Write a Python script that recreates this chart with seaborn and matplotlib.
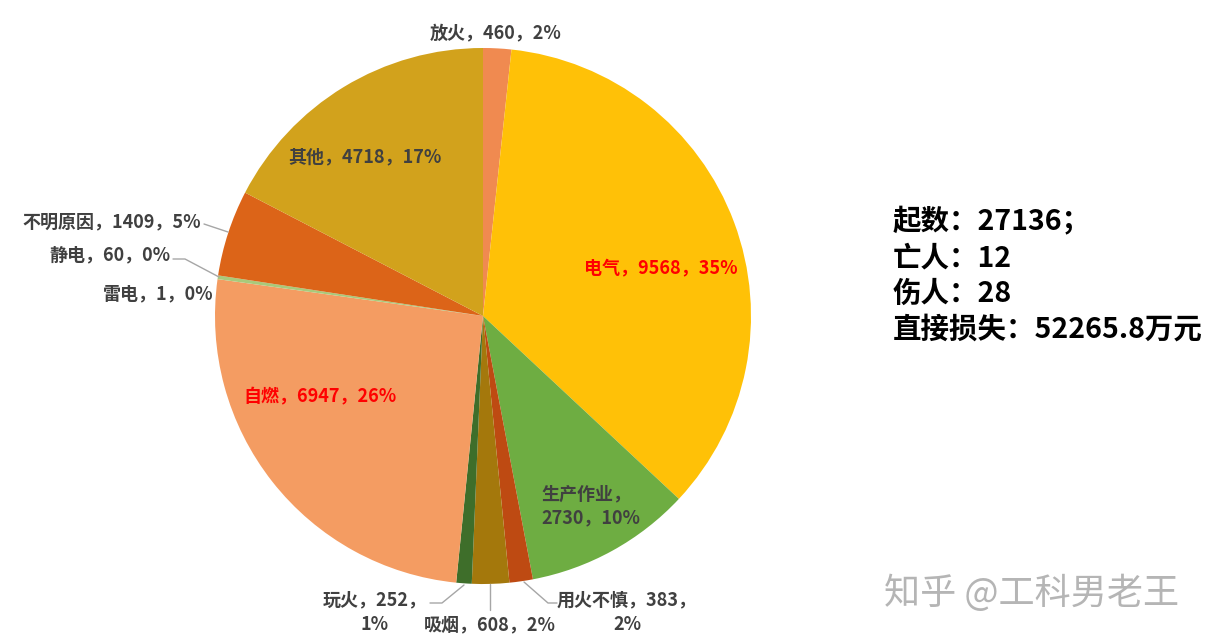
import matplotlib
matplotlib.use("Agg")
import matplotlib.pyplot as plt
import seaborn as sns

sns.set_theme(style="white")
plt.rcParams['font.family'] = ['Noto Sans CJK SC', 'DejaVu Sans']

# Data (clockwise from 12 o'clock)
categories = ["放火", "电气", "生产作业", "用火不慎", "吸烟", "玩火", "自燃", "雷电", "静电", "不明原因", "其他"]
counts = [460, 9568, 2730, 383, 608, 252, 6947, 1, 60, 1409, 4718]
percents = ["2%", "35%", "10%", "2%", "2%", "1%", "26%", "0%", "0%", "5%", "17%"]
colors = ["#F08A50", "#FFC107", "#6EAD42", "#BE4A12", "#A4780C", "#3E6E2A",
          "#F49C62", "#9DC46C", "#A9C97A", "#DC6418", "#D2A21C"]
summary_lines = ["起数：27136；", "亡人：12", "伤人：28", "直接损失：52265.8万元"]
watermark = "知乎 @工科男老王"

fig = plt.figure(figsize=(12.1, 6.43), dpi=100)
fig.patch.set_facecolor("white")
ax = fig.add_axes([215 / 1210, (643 - 584) / 643, 536 / 1210, 536 / 643])
ax.pie(counts, colors=colors, startangle=90, counterclock=False, radius=1,
       wedgeprops=dict(linewidth=0))
ax.set_xlim(-1, 1)
ax.set_ylim(-1, 1)
ax.set_aspect("equal")
ax.axis("off")


def P(px, py):
    return ((px - 483) / 268, (316 - py) / 268)


def lab(i, sep="，"):
    return f"{categories[i]}{sep}{counts[i]}{sep}{percents[i]}"


dark = "#404040"
fs = 13
kw = dict(fontsize=fs, fontweight="bold", va="center")

# Label layout
ax.text(*P(496, 33), lab(0), color=dark, ha="center", **kw)
ax.text(*P(661, 268), lab(1), color="#FF0000", ha="center", **kw)
ax.text(*P(541, 506), f"{categories[2]}，\n{counts[2]}，{percents[2]}", color=dark,
        ha="left", linespacing=1.35, **kw)
ax.text(*P(627, 612), f"{categories[3]}，{counts[3]}，\n{percents[3]}", color=dark,
        ha="center", linespacing=1.35, **kw)
ax.text(*P(490, 625), lab(4), color=dark, ha="center", **kw)
ax.text(*P(375, 612), f"{categories[5]}，{counts[5]}，\n{percents[5]}", color=dark,
        ha="center", linespacing=1.35, **kw)
ax.text(*P(320, 397), lab(6), color="#FF0000", ha="center", **kw)
ax.text(*P(214, 294), lab(7), color=dark, ha="right", **kw)
ax.text(*P(171, 255), lab(8), color=dark, ha="right", **kw)
ax.text(*P(201, 222), lab(9), color=dark, ha="right", **kw)
ax.text(*P(365, 157), lab(10), color=dark, ha="center", **kw)

# Leader lines
lc = "#A6A6A6"
for pts in [
    [(204, 224), (228, 232)],
    [(173, 259), (185, 259), (219, 277)],
    [(430, 603), (442, 603), (464, 585)],
    [(490, 584), (490, 610)],
    [(524, 582), (548, 603), (557, 603)],
]:
    xs, ys = zip(*[P(*p) for p in pts])
    ax.plot(xs, ys, color=lc, linewidth=1, clip_on=False)

# Summary text
for k, line in enumerate(summary_lines):
    fig.text(893 / 1210, 1 - (222 + k * 36) / 643, line, fontsize=20.5,
             fontweight="bold", color="black", ha="left", va="center")

fig.text(1032 / 1210, 1 - 593 / 643, watermark, fontsize=26, color="#B5B5B5",
         ha="center", va="center")

fig.savefig("out.png", dpi=100, facecolor="white")
